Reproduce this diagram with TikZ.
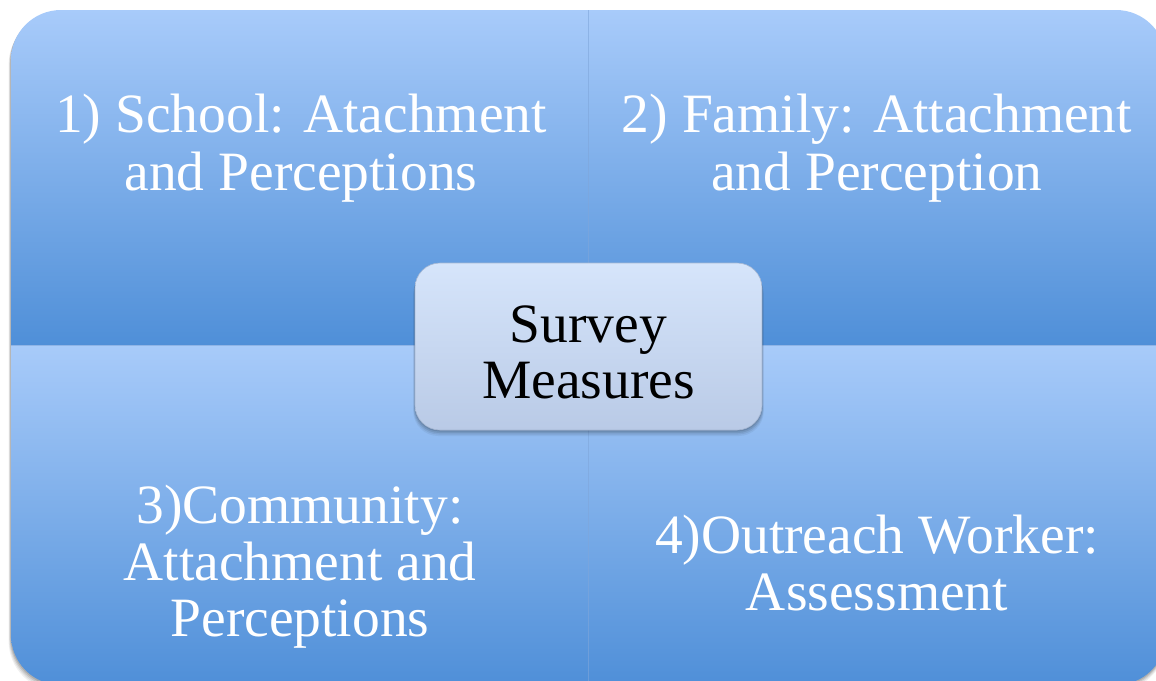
\documentclass[tikz,border=0pt]{standalone}
\usepackage{fontspec}
\setmainfont{Liberation Serif}
\begin{document}
\definecolor{quadtop}{HTML}{A8CBFA}
\definecolor{quadbot}{HTML}{4F8FD8}
\definecolor{boxtop}{HTML}{D6E5FB}
\definecolor{boxbot}{HTML}{B9CAE6}
\definecolor{boxrim}{HTML}{A7B8D3}
\definecolor{seam}{HTML}{7FA6DA}
\tikzset{
  quad/.style={top color=quadtop, bottom color=quadbot},
  qtext/.style={anchor=base, text=white, inner sep=0pt, font=\fontsize{55.5}{57}\selectfont},
  ctext/.style={anchor=base, text=black, inner sep=0pt, font=\fontsize{55.5}{57}\selectfont},
  hubbox/.style={rounded corners=25pt, minimum width=347pt, minimum height=167pt,
    top color=boxtop, bottom color=boxbot, draw=boxrim, line width=0.6pt, inner sep=0pt},
}
\begin{tikzpicture}[x=1pt, y=-1pt]
\useasboundingbox (0,0) rectangle (1156,680);
\clip (0,0) rectangle (1156,680);
% soft shadow under the panel
\foreach \o/\a in {4/0.06, 3/0.08, 2/0.10, 1/0.12}
  \fill[black, opacity=\a, rounded corners=50pt] (11-\o*0.6,10+\o*1.2) rectangle (1166,685+\o*1.5);
% the four shaded quadrants inside the rounded panel
\begin{scope}
  \clip[rounded corners=50pt] (11,10) rectangle (1166,685);
  \shade[quad] (11,10) rectangle (588,345);
  \shade[quad] (588,10) rectangle (1166,345);
  \shade[quad] (11,345) rectangle (588,685);
  \shade[quad] (588,345) rectangle (1166,685);
  \draw[seam, opacity=0.6, line width=1pt] (588,10) -- (588,685);
  \draw[seam, opacity=0.6, line width=1pt] (11,345.5) -- (1166,345.5);
\end{scope}
% quadrant labels
\node[qtext] (q1a) at (301,132) {1) School: Atachment};
\node[qtext] (q1b) at (301,190) {and Perceptions};
\node[qtext] (q2a) at (877,132) {2) Family: Attachment};
\node[qtext] (q2b) at (877,190) {and Perception};
\node[qtext] (q3a) at (300,523) {3)Community:};
\node[qtext] (q3b) at (300,580) {Attachment and};
\node[qtext] (q3c) at (300,636) {Perceptions};
\node[qtext] (q4a) at (877,553) {4)Outreach Worker:};
\node[qtext] (q4b) at (877,610) {Assessment};
% central hub with its shadow
\foreach \o/\a in {6/0.05, 4.5/0.07, 3/0.09, 1.5/0.10}
  \fill[black, opacity=\a, rounded corners=25pt] (415-\o*0.3,263+\o) rectangle (762+\o*0.3,430+\o);
\node[hubbox] (hub) at (588.5,346.5) {};
\node[ctext] (huba) at (588.5,342) {Survey};
\node[ctext] (hubb) at (588.5,398) {Measures};
\end{tikzpicture}
\end{document}
